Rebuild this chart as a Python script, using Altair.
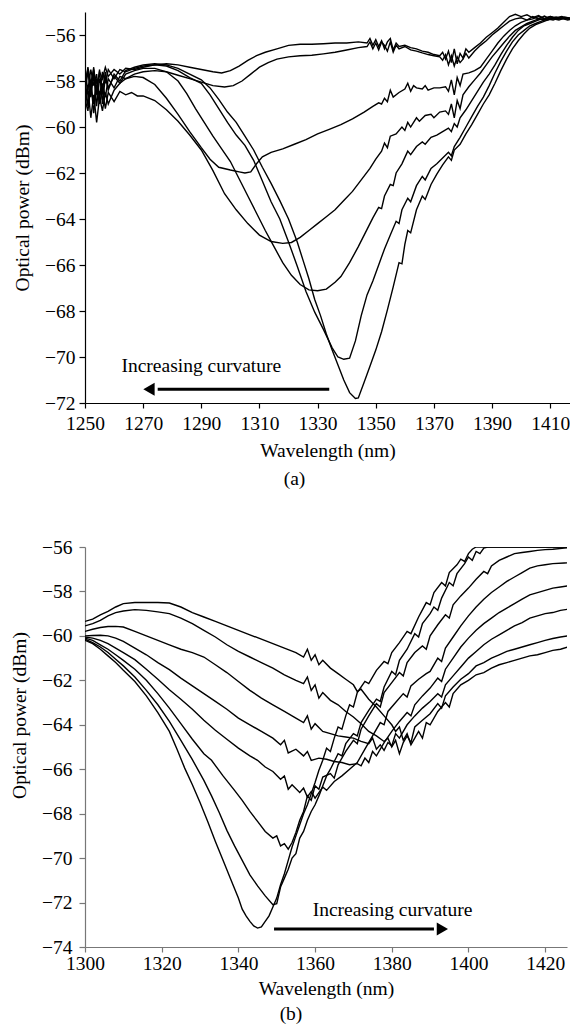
import altair as alt
import pandas as pd

FONT = "Liberation Serif"

# ---------------- Panel (a) curves: (wavelength nm, power dBm) ----------------
A1 = [(1250,-58.3),(1251,-57.4),(1252,-58.1),(1253,-57.5),(1254,-58.4),(1255,-57.6),(1256,-57.9),(1257,-57.4),(1258,-57.8),(1260,-57.5),(1262,-57.7),(1264,-57.45),(1267,-57.5),(1270,-57.4),(1274,-57.3),(1278,-57.25),(1282,-57.3),(1286,-57.4),(1290,-57.5),(1294,-57.6),(1297,-57.65),(1300,-57.55),(1303,-57.35),(1306,-57.1),(1309,-56.9),(1312,-56.75),(1316,-56.6),(1320,-56.45),(1324,-56.4),(1328,-56.4),(1332,-56.38),(1336,-56.35),(1340,-56.35),(1344,-56.3),(1347,-56.35),(1348,-56.15),(1349,-56.45),(1350,-56.2),(1351,-56.5),(1352,-56.25),(1353,-56.6),(1354,-56.3),(1355,-56.15),(1356,-56.65),(1357,-56.35),(1358,-56.5),(1360,-56.45),(1362,-56.55),(1364,-56.6),(1366,-56.7),(1368,-56.75),(1370,-56.85),(1372,-56.9),(1373,-56.75),(1374,-57.05),(1375,-56.7),(1376,-57.2),(1377,-56.6),(1378,-57.25),(1379,-56.8),(1380,-57.0),(1381,-56.6),(1382,-56.75),(1384,-56.55),(1386,-56.35),(1388,-56.1),(1390,-55.9),(1392,-55.7),(1394,-55.45),(1396,-55.2),(1398,-55.1),(1400,-55.2),(1402,-55.12),(1404,-55.25),(1406,-55.15),(1408,-55.3),(1410,-55.2),(1412,-55.25),(1414,-55.2),(1416,-55.3),(1418,-55.25)]
A2 = [(1250,-58.8),(1251,-59.3),(1252,-58.2),(1253,-59.0),(1254,-57.9),(1255,-58.6),(1256,-58.1),(1257,-58.7),(1258,-57.9),(1260,-58.3),(1262,-57.8),(1264,-57.9),(1267,-57.7),(1270,-57.6),(1274,-57.55),(1278,-57.6),(1282,-57.75),(1286,-57.9),(1290,-58.05),(1294,-58.2),(1298,-58.26),(1301,-58.2),(1304,-58.0),(1307,-57.7),(1310,-57.4),(1313,-57.2),(1316,-57.05),(1320,-56.95),(1324,-56.9),(1328,-56.88),(1332,-56.82),(1336,-56.75),(1340,-56.65),(1344,-56.55),(1347,-56.5),(1348,-56.3),(1349,-56.6),(1350,-56.35),(1351,-56.65),(1352,-56.3),(1353,-56.45),(1354,-56.7),(1355,-56.3),(1356,-56.75),(1357,-56.45),(1358,-56.6),(1360,-56.5),(1362,-56.65),(1364,-56.7),(1366,-56.78),(1368,-56.85),(1370,-56.9),(1372,-56.95),(1373,-57.1),(1374,-56.85),(1375,-57.3),(1376,-56.9),(1377,-57.35),(1378,-56.95),(1379,-57.2),(1380,-57.05),(1381,-56.8),(1382,-57.0),(1384,-56.7),(1386,-56.45),(1388,-56.25),(1390,-56.0),(1392,-55.8),(1394,-55.6),(1396,-55.4),(1398,-55.3),(1400,-55.25),(1402,-55.35),(1404,-55.2),(1406,-55.3),(1408,-55.18),(1410,-55.3),(1412,-55.22),(1414,-55.3),(1416,-55.25),(1418,-55.32)]
A3 = [(1250,-59.2),(1251,-58.3),(1252,-59.6),(1253,-58.6),(1254,-59.8),(1255,-58.7),(1256,-59.3),(1257,-58.5),(1258,-59.0),(1260,-58.4),(1262,-58.1),(1264,-57.9),(1267,-57.8),(1270,-57.85),(1274,-58.15),(1278,-58.75),(1282,-59.45),(1286,-60.2),(1290,-60.9),(1293,-61.4),(1296,-61.75),(1300,-61.87),(1303,-61.95),(1305,-62.0),(1307,-61.95),(1309,-61.6),(1311,-61.3),(1314,-61.1),(1318,-60.95),(1322,-60.75),(1326,-60.55),(1330,-60.3),(1334,-60.1),(1338,-59.9),(1342,-59.65),(1346,-59.35),(1349,-59.1),(1351,-58.95),(1352,-59.0),(1353,-58.75),(1354,-58.9),(1355,-58.4),(1356,-58.7),(1358,-58.5),(1360,-58.35),(1361,-58.1),(1362,-58.45),(1363,-58.2),(1364,-58.3),(1366,-58.35),(1367,-58.2),(1368,-58.4),(1370,-58.3),(1372,-58.3),(1374,-58.25),(1375,-58.45),(1376,-57.95),(1377,-58.6),(1378,-57.85),(1379,-58.2),(1380,-57.7),(1382,-57.65),(1384,-57.55),(1386,-57.4),(1388,-57.05),(1390,-56.7),(1392,-56.35),(1394,-56.05),(1396,-55.8),(1398,-55.6),(1400,-55.45),(1402,-55.35),(1404,-55.3),(1406,-55.2),(1408,-55.28),(1410,-55.2),(1412,-55.3),(1414,-55.22),(1416,-55.3),(1418,-55.28)]
A4 = [(1250,-57.8),(1251,-59.1),(1252,-58.0),(1253,-59.4),(1254,-58.3),(1255,-59.0),(1256,-58.4),(1257,-59.2),(1258,-58.5),(1260,-58.9),(1262,-58.45),(1264,-58.6),(1266,-58.5),(1268,-58.65),(1270,-58.65),(1274,-58.85),(1278,-59.25),(1282,-59.75),(1286,-60.35),(1290,-61.0),(1294,-61.9),(1298,-62.9),(1302,-63.6),(1306,-64.2),(1310,-64.7),(1314,-64.98),(1318,-65.06),(1321,-65.02),(1324,-64.8),(1327,-64.5),(1330,-64.2),(1333,-63.9),(1336,-63.6),(1339,-63.2),(1342,-62.8),(1345,-62.3),(1348,-61.8),(1350,-61.4),(1352,-61.05),(1353,-60.7),(1354,-60.9),(1355,-60.4),(1357,-60.3),(1359,-60.0),(1360,-60.15),(1361,-59.8),(1362,-60.0),(1364,-59.6),(1365,-59.75),(1367,-59.5),(1369,-59.45),(1370,-59.6),(1372,-59.35),(1374,-59.3),(1375,-59.45),(1376,-59.0),(1377,-59.6),(1378,-58.85),(1379,-59.2),(1380,-58.6),(1382,-58.25),(1384,-57.95),(1386,-57.65),(1388,-57.3),(1390,-56.95),(1392,-56.65),(1394,-56.35),(1396,-56.05),(1398,-55.8),(1400,-55.65),(1402,-55.5),(1404,-55.4),(1406,-55.3),(1408,-55.35),(1410,-55.25),(1412,-55.32),(1414,-55.28),(1416,-55.35),(1418,-55.3)]
A5 = [(1250,-58.0),(1251,-57.5),(1252,-58.7),(1253,-57.7),(1254,-59.1),(1255,-57.9),(1256,-58.4),(1257,-57.6),(1258,-58.3),(1260,-57.8),(1262,-58.1),(1264,-57.7),(1267,-57.55),(1270,-57.45),(1274,-57.45),(1278,-57.6),(1282,-58.0),(1285,-58.55),(1288,-59.2),(1291,-59.8),(1294,-60.4),(1297,-60.95),(1300,-61.5),(1303,-62.25),(1306,-63.0),(1309,-63.75),(1312,-64.5),(1315,-65.2),(1318,-65.9),(1321,-66.45),(1324,-66.85),(1327,-67.08),(1330,-67.12),(1333,-67.05),(1336,-66.75),(1338,-66.5),(1341,-65.9),(1344,-65.2),(1347,-64.45),(1349,-63.95),(1351,-63.5),(1352,-63.55),(1353,-63.0),(1355,-62.5),(1356,-62.55),(1357,-62.0),(1359,-61.6),(1361,-61.05),(1362,-61.2),(1364,-60.85),(1366,-60.65),(1367,-60.75),(1369,-60.45),(1371,-60.35),(1373,-60.2),(1375,-60.05),(1376,-60.2),(1377,-59.85),(1378,-60.0),(1379,-59.6),(1381,-59.25),(1383,-58.85),(1385,-58.45),(1387,-58.05),(1389,-57.7),(1391,-57.3),(1393,-56.85),(1395,-56.45),(1397,-56.1),(1399,-55.8),(1401,-55.6),(1403,-55.5),(1405,-55.4),(1407,-55.3),(1409,-55.35),(1411,-55.25),(1413,-55.3),(1415,-55.22),(1418,-55.3)]
A6 = [(1250,-57.6),(1251,-58.4),(1252,-57.5),(1253,-58.2),(1254,-57.7),(1255,-58.9),(1256,-57.6),(1257,-58.1),(1258,-57.5),(1260,-57.9),(1262,-57.5),(1264,-57.6),(1267,-57.45),(1270,-57.35),(1274,-57.3),(1278,-57.35),(1282,-57.55),(1286,-57.85),(1290,-58.1),(1293,-58.6),(1296,-59.2),(1299,-59.8),(1302,-60.35),(1305,-60.8),(1308,-61.45),(1311,-62.35),(1314,-63.25),(1317,-64.0),(1320,-65.0),(1323,-66.05),(1326,-67.15),(1329,-68.05),(1332,-68.8),(1335,-69.6),(1337,-70.0),(1339,-70.1),(1341,-70.05),(1343,-69.3),(1345,-68.2),(1347,-67.3),(1349,-66.7),(1351,-66.0),(1353,-65.3),(1355,-64.7),(1357,-64.1),(1358,-64.2),(1359,-63.6),(1361,-63.1),(1362,-63.25),(1364,-62.55),(1366,-62.15),(1367,-62.3),(1369,-61.8),(1371,-61.6),(1373,-61.35),(1375,-61.1),(1376,-61.25),(1377,-60.85),(1379,-60.45),(1381,-60.0),(1383,-59.55),(1385,-59.1),(1387,-58.7),(1389,-58.2),(1391,-57.65),(1393,-57.15),(1395,-56.7),(1397,-56.3),(1399,-56.0),(1401,-55.8),(1403,-55.6),(1405,-55.5),(1407,-55.4),(1409,-55.3),(1411,-55.35),(1413,-55.25),(1415,-55.3),(1418,-55.25)]
A7 = [(1250,-58.5),(1251,-57.6),(1252,-58.3),(1253,-57.4),(1254,-58.6),(1255,-57.5),(1256,-59.0),(1257,-57.8),(1258,-58.4),(1260,-57.7),(1262,-58.0),(1264,-57.55),(1267,-57.4),(1270,-57.3),(1274,-57.25),(1278,-57.3),(1282,-57.45),(1286,-57.7),(1290,-57.95),(1293,-58.3),(1296,-58.8),(1299,-59.35),(1302,-59.8),(1305,-60.4),(1308,-61.0),(1311,-61.75),(1314,-62.45),(1317,-63.2),(1320,-64.0),(1323,-65.0),(1325,-65.8),(1327,-66.6),(1329,-67.5),(1331,-68.2),(1333,-69.0),(1335,-69.7),(1337,-70.35),(1339,-71.0),(1341,-71.55),(1343,-71.8),(1344,-71.78),(1346,-71.1),(1348,-70.4),(1350,-69.7),(1352,-68.9),(1354,-67.95),(1356,-66.95),(1358,-65.9),(1359,-65.95),(1360,-65.1),(1361,-64.5),(1362,-64.6),(1364,-63.6),(1366,-63.0),(1367,-63.15),(1369,-62.5),(1371,-62.05),(1373,-61.65),(1375,-61.3),(1376,-61.45),(1377,-61.0),(1379,-60.75),(1381,-60.3),(1383,-59.9),(1385,-59.45),(1387,-59.0),(1389,-58.6),(1391,-58.1),(1393,-57.55),(1395,-57.05),(1397,-56.6),(1399,-56.25),(1401,-55.95),(1403,-55.7),(1405,-55.55),(1407,-55.45),(1409,-55.35),(1411,-55.3),(1413,-55.35),(1415,-55.25),(1418,-55.3)]

# ---------------- Panel (b) curves ----------------
B1 = [(1300,-59.35),(1302,-59.25),(1304,-59.05),(1306,-58.9),(1308,-58.7),(1310,-58.55),(1313,-58.5),(1316,-58.5),(1319,-58.5),(1322,-58.52),(1325,-58.7),(1328,-58.95),(1331,-59.15),(1334,-59.35),(1337,-59.55),(1340,-59.75),(1343,-59.95),(1346,-60.15),(1349,-60.35),(1352,-60.55),(1355,-60.75),(1357,-60.95),(1358,-60.6),(1359,-61.1),(1360,-60.85),(1361,-61.3),(1362,-61.1),(1364,-61.45),(1366,-61.7),(1368,-61.95),(1370,-62.2),(1371,-62.5),(1372,-62.4),(1374,-62.85),(1376,-63.2),(1378,-63.6),(1380,-64.0),(1381,-64.3),(1382,-64.1),(1383,-64.7),(1384,-64.4),(1385,-64.9),(1386,-64.6),(1387,-64.3),(1388,-64.6),(1389,-63.9),(1390,-64.0),(1392,-63.4),(1394,-63.0),(1395,-63.2),(1396,-62.6),(1398,-62.2),(1400,-62.0),(1402,-61.75),(1404,-61.65),(1406,-61.45),(1408,-61.3),(1410,-61.2),(1412,-61.1),(1414,-61.0),(1416,-60.9),(1418,-60.85),(1420,-60.75),(1422,-60.65),(1424,-60.6),(1426,-60.5),(1428,-60.44)]
B2 = [(1300,-59.55),(1302,-59.45),(1304,-59.3),(1306,-59.1),(1308,-58.95),(1310,-58.88),(1313,-58.82),(1316,-58.85),(1319,-58.92),(1322,-59.0),(1325,-59.2),(1328,-59.45),(1331,-59.75),(1334,-60.05),(1337,-60.4),(1340,-60.7),(1343,-60.95),(1346,-61.2),(1349,-61.45),(1352,-61.75),(1355,-62.0),(1357,-62.15),(1358,-61.85),(1359,-62.45),(1360,-62.2),(1361,-62.8),(1362,-62.55),(1364,-62.9),(1366,-63.1),(1368,-63.4),(1370,-63.65),(1372,-63.95),(1374,-64.3),(1376,-64.5),(1378,-64.75),(1379,-64.6),(1380,-65.0),(1381,-64.7),(1382,-65.3),(1383,-64.8),(1384,-64.5),(1385,-64.8),(1386,-64.1),(1388,-63.8),(1390,-63.5),(1392,-63.05),(1393,-63.25),(1394,-62.7),(1396,-62.3),(1398,-61.95),(1400,-61.7),(1402,-61.35),(1404,-61.2),(1406,-61.0),(1408,-60.85),(1410,-60.7),(1412,-60.6),(1414,-60.5),(1416,-60.4),(1418,-60.3),(1420,-60.2),(1422,-60.12),(1424,-60.05),(1426,-60.0),(1428,-59.95)]
B3 = [(1300,-59.8),(1302,-59.7),(1304,-59.62),(1306,-59.58),(1308,-59.57),(1310,-59.6),(1313,-59.8),(1316,-60.0),(1319,-60.2),(1322,-60.4),(1325,-60.6),(1328,-60.75),(1331,-60.95),(1334,-61.3),(1337,-61.65),(1340,-62.05),(1343,-62.45),(1346,-62.8),(1349,-63.1),(1352,-63.4),(1355,-63.7),(1357,-63.9),(1358,-63.6),(1359,-64.2),(1360,-63.95),(1362,-64.3),(1364,-64.4),(1366,-64.5),(1368,-64.55),(1370,-64.6),(1372,-64.75),(1374,-64.85),(1375,-64.6),(1376,-65.1),(1377,-64.9),(1378,-65.15),(1379,-64.8),(1380,-64.95),(1381,-64.4),(1382,-64.6),(1384,-64.0),(1386,-63.6),(1388,-63.25),(1390,-62.95),(1392,-62.6),(1393,-62.75),(1394,-62.2),(1396,-61.8),(1398,-61.4),(1400,-61.0),(1402,-60.7),(1404,-60.4),(1406,-60.15),(1408,-59.95),(1410,-59.75),(1412,-59.55),(1414,-59.4),(1416,-59.2),(1418,-59.1),(1420,-59.0),(1422,-58.95),(1424,-58.85),(1426,-58.8),(1428,-58.75)]
B4 = [(1300,-60.0),(1302,-59.98),(1304,-59.97),(1306,-60.0),(1308,-60.1),(1310,-60.25),(1313,-60.55),(1316,-60.85),(1319,-61.2),(1322,-61.52),(1325,-61.9),(1328,-62.25),(1331,-62.6),(1334,-62.95),(1337,-63.3),(1340,-63.7),(1343,-64.0),(1346,-64.3),(1349,-64.6),(1351,-64.9),(1352,-64.7),(1353,-65.27),(1355,-65.1),(1357,-65.4),(1358,-65.2),(1359,-65.6),(1361,-65.5),(1363,-65.55),(1365,-65.65),(1367,-65.7),(1369,-65.8),(1371,-65.75),(1372,-65.85),(1373,-65.5),(1374,-65.7),(1375,-65.2),(1376,-65.4),(1378,-64.8),(1380,-64.3),(1382,-63.85),(1384,-63.45),(1385,-63.6),(1386,-63.1),(1388,-62.7),(1390,-62.35),(1392,-61.9),(1393,-62.05),(1394,-61.5),(1396,-61.0),(1398,-60.5),(1400,-60.1),(1402,-59.75),(1404,-59.45),(1406,-59.2),(1408,-58.95),(1410,-58.75),(1412,-58.55),(1414,-58.35),(1416,-58.15),(1418,-58.05),(1420,-57.95),(1422,-57.85),(1424,-57.8),(1426,-57.75),(1428,-57.7)]
B5 = [(1300,-60.05),(1302,-60.1),(1304,-60.2),(1306,-60.35),(1308,-60.55),(1310,-60.75),(1313,-61.07),(1316,-61.5),(1319,-61.95),(1322,-62.42),(1325,-62.85),(1328,-63.3),(1331,-63.8),(1334,-64.25),(1337,-64.65),(1340,-65.05),(1343,-65.4),(1345,-65.6),(1347,-65.9),(1349,-66.1),(1351,-66.45),(1352,-66.3),(1353,-66.9),(1354,-66.7),(1356,-67.05),(1357,-66.85),(1358,-67.25),(1359,-67.0),(1360,-67.3),(1361,-67.05),(1362,-66.8),(1363,-66.95),(1365,-66.55),(1367,-66.3),(1369,-66.0),(1371,-65.7),(1373,-65.1),(1375,-64.5),(1377,-63.9),(1378,-64.0),(1379,-63.4),(1381,-63.0),(1383,-62.6),(1384,-62.75),(1385,-62.25),(1387,-61.95),(1389,-61.7),(1390,-61.6),(1392,-61.0),(1393,-61.15),(1394,-60.55),(1396,-60.05),(1398,-59.55),(1400,-59.1),(1402,-58.7),(1404,-58.35),(1406,-58.05),(1408,-57.8),(1410,-57.55),(1412,-57.35),(1414,-57.15),(1416,-56.95),(1418,-56.85),(1420,-56.8),(1422,-56.75),(1425,-56.72),(1428,-56.7)]
B6 = [(1300,-60.1),(1302,-60.2),(1304,-60.4),(1306,-60.6),(1308,-60.85),(1310,-61.1),(1313,-61.5),(1316,-62.0),(1319,-62.6),(1322,-63.25),(1325,-63.95),(1328,-64.65),(1331,-65.3),(1333,-65.6),(1336,-66.3),(1339,-66.95),(1341,-67.4),(1343,-67.9),(1345,-68.35),(1347,-68.8),(1349,-69.1),(1350,-69.0),(1351,-69.45),(1352,-69.35),(1353,-69.6),(1354,-69.3),(1355,-68.85),(1356,-68.3),(1357,-67.9),(1358,-67.2),(1359,-67.4),(1360,-66.75),(1361,-66.9),(1362,-66.35),(1364,-66.2),(1365,-66.4),(1366,-65.8),(1368,-65.2),(1370,-64.7),(1371,-64.85),(1372,-64.2),(1374,-63.6),(1376,-63.05),(1377,-63.2),(1378,-62.55),(1380,-62.1),(1382,-61.65),(1383,-61.8),(1384,-61.2),(1386,-60.75),(1388,-60.45),(1389,-60.6),(1390,-60.0),(1392,-59.5),(1394,-59.05),(1395,-59.2),(1396,-58.6),(1398,-58.2),(1400,-57.85),(1402,-57.45),(1404,-57.1),(1405,-57.2),(1406,-56.85),(1408,-56.6),(1410,-56.45),(1412,-56.3),(1414,-56.25),(1416,-56.2),(1418,-56.15),(1420,-56.12),(1422,-56.1),(1425,-56.05),(1428,-56.0)]
B7 = [(1300,-60.15),(1302,-60.3),(1304,-60.5),(1306,-60.75),(1308,-61.05),(1310,-61.35),(1313,-61.85),(1316,-62.45),(1319,-63.1),(1322,-63.85),(1325,-64.7),(1328,-65.57),(1331,-66.5),(1333,-67.2),(1335,-67.95),(1337,-68.75),(1339,-69.45),(1341,-70.1),(1343,-70.75),(1345,-71.25),(1347,-71.7),(1349,-72.1),(1350,-72.05),(1351,-71.3),(1352,-70.9),(1353,-70.5),(1354,-70.0),(1355,-69.8),(1356,-69.1),(1357,-68.8),(1358,-68.3),(1359,-67.9),(1360,-67.6),(1361,-67.2),(1362,-66.75),(1363,-66.3),(1364,-66.0),(1365,-65.65),(1366,-65.3),(1367,-65.4),(1368,-64.85),(1370,-64.4),(1371,-64.5),(1372,-63.9),(1374,-63.35),(1376,-62.85),(1377,-62.95),(1378,-62.3),(1380,-61.6),(1381,-61.75),(1382,-61.1),(1384,-60.6),(1386,-59.9),(1387,-60.05),(1388,-59.45),(1390,-59.0),(1391,-58.7),(1392,-58.85),(1393,-58.3),(1395,-57.6),(1396,-57.75),(1397,-57.2),(1399,-56.75),(1400,-56.45),(1401,-56.6),(1402,-56.2),(1403,-56.3),(1404,-56.05),(1405,-56.0),(1410,-56.0),(1416,-56.0),(1422,-56.0),(1428,-56.0)]
B8 = [(1300,-60.2),(1302,-60.35),(1304,-60.6),(1306,-60.9),(1308,-61.2),(1310,-61.55),(1313,-62.05),(1316,-62.7),(1319,-63.45),(1322,-64.3),(1324,-65.1),(1326,-65.95),(1328,-66.7),(1330,-67.5),(1332,-68.35),(1334,-69.25),(1336,-70.1),(1338,-70.95),(1340,-71.8),(1341,-72.3),(1342,-72.6),(1343,-72.85),(1344,-73.05),(1345,-73.15),(1346,-73.1),(1347,-72.85),(1348,-72.6),(1349,-72.2),(1350,-71.8),(1351,-71.2),(1352,-70.7),(1353,-70.1),(1354,-69.5),(1355,-69.0),(1356,-68.5),(1357,-68.0),(1358,-67.6),(1359,-67.1),(1360,-66.6),(1361,-66.05),(1362,-65.6),(1363,-65.05),(1364,-65.2),(1365,-64.6),(1366,-64.1),(1367,-64.2),(1368,-63.6),(1369,-63.1),(1370,-63.2),(1371,-62.55),(1373,-62.05),(1374,-62.15),(1376,-61.55),(1378,-61.15),(1379,-61.25),(1380,-60.75),(1382,-60.3),(1384,-59.8),(1385,-59.9),(1387,-59.15),(1389,-58.5),(1390,-58.6),(1391,-58.05),(1393,-57.6),(1394,-57.75),(1395,-57.15),(1397,-56.8),(1398,-56.55),(1399,-56.65),(1400,-56.3),(1401,-56.1),(1402,-56.0),(1410,-56.0),(1416,-56.0),(1422,-56.0),(1428,-56.0)]

# axes / annotation values
A_XDOM = [1250, 1416.8]
A_YDOM = [-72, -55]
A_XTICKS = [1250, 1270, 1290, 1310, 1330, 1350, 1370, 1390, 1410]
A_YTICKS = [-72, -70, -68, -66, -64, -62, -60, -58, -56]
B_XDOM = [1300, 1425.7]
B_YDOM = [-74, -56]
B_XTICKS = [1300, 1320, 1340, 1360, 1380, 1400, 1420]
B_YTICKS = [-74, -72, -70, -68, -66, -64, -62, -60, -58, -56]

A_ARROW = {"x_tail": 1334, "x_head": 1275, "x_tip": 1272, "y": -71.4}
A_TEXT = {"x": 1290, "y": -70.65, "text": "Increasing curvature"}
B_ARROW = {"x_tail": 1349.3, "x_head": 1391, "x_tip": 1393.2, "y": -73.19}
B_TEXT = {"x": 1380.2, "y": -72.62, "text": "Increasing curvature"}

FS = 19.5


def to_df(curves):
    rows = []
    for name, pts in curves.items():
        for i, (x, y) in enumerate(pts):
            rows.append({"curve": name, "i": i, "nm": x, "db": y})
    return pd.DataFrame(rows)


def panel(curves, xdom, ydom, xticks, yticks, w, h, arrow, text, shape, label,
          axis_color, xlab_pad, xtitle_pad, ylab_pad, ytitle_pad, ytitle_y,
          label_dx, label_offset):
    df = to_df(curves)
    xs = alt.Scale(domain=xdom, nice=False, zero=False)
    ys = alt.Scale(domain=ydom, nice=False, zero=False)
    xax = alt.Axis(values=xticks, format="d", title="Wavelength (nm)", grid=False,
                   domainColor=axis_color, tickColor=axis_color, tickSize=5,
                   labelPadding=xlab_pad, titlePadding=xtitle_pad, labelFlush=False)
    yargs = dict(values=yticks, format="d", title="Optical power (dBm)", grid=False,
                 domainColor=axis_color, tickColor=axis_color, tickSize=6,
                 labelPadding=ylab_pad, titlePadding=ytitle_pad, labelFlush=False)
    if ytitle_y is not None:
        yargs["titleY"] = ytitle_y
    yax = alt.Axis(**yargs)
    lines = alt.Chart(df).mark_line(color="black", strokeWidth=1.4, clip=True).encode(
        x=alt.X("nm:Q", scale=xs, axis=xax),
        y=alt.Y("db:Q", scale=ys, axis=yax),
        detail="curve:N",
        order="i:Q",
    )
    adf = pd.DataFrame([{"nm": arrow["x_tail"], "nm2": arrow["x_head"], "db": arrow["y"]}])
    shaft = alt.Chart(adf).mark_rule(color="black", strokeWidth=3).encode(
        x=alt.X("nm:Q", scale=xs), x2="nm2:Q", y=alt.Y("db:Q", scale=ys))
    hdf = pd.DataFrame([{"nm": arrow["x_tip"], "db": arrow["y"]}])
    head = alt.Chart(hdf).mark_point(shape=shape, filled=True, color="black",
                                     size=170, opacity=1).encode(
        x=alt.X("nm:Q", scale=xs), y=alt.Y("db:Q", scale=ys))
    tdf = pd.DataFrame([{"nm": text["x"], "db": text["y"], "t": text["text"]}])
    txt = alt.Chart(tdf).mark_text(font=FONT, fontSize=FS, color="black",
                                   align="center", baseline="alphabetic").encode(
        x=alt.X("nm:Q", scale=xs), y=alt.Y("db:Q", scale=ys), text="t:N")
    return alt.layer(lines, shaft, head, txt).properties(
        width=w, height=h,
        title=alt.TitleParams(label, orient="bottom", dx=label_dx, offset=label_offset,
                              font=FONT, fontSize=FS, fontWeight="normal",
                              color="black", anchor="middle"),
    )


pa = panel({"A1": A1, "A2": A2, "A3": A3, "A4": A4, "A5": A5, "A6": A6, "A7": A7},
           A_XDOM, A_YDOM, A_XTICKS, A_YTICKS, 485, 391, A_ARROW, A_TEXT,
           "triangle-left", "(a)", "black", 6, 9, 4, 12, None, -33, 10)
pb = panel({"B1": B1, "B2": B2, "B3": B3, "B4": B4, "B5": B5, "B6": B6, "B7": B7, "B8": B8},
           B_XDOM, B_YDOM, B_XTICKS, B_YTICKS, 482, 400, B_ARROW, B_TEXT,
           "triangle-right", "(b)", "#777777", 2, 7, 7, 12, 168, -35, 7)

chart = alt.vconcat(pa, pb, spacing=48).properties(
    padding={"left": 1, "top": 4, "right": 0, "bottom": 0}
).configure_view(stroke=None).configure_axis(
    labelFont=FONT, titleFont=FONT, labelFontSize=FS, titleFontSize=FS,
    labelColor="black", titleColor="black", titleFontWeight="normal",
    domainWidth=1.2, tickWidth=1.2,
)

chart.save("out.html", embed_options={"renderer": "svg", "actions": False})
